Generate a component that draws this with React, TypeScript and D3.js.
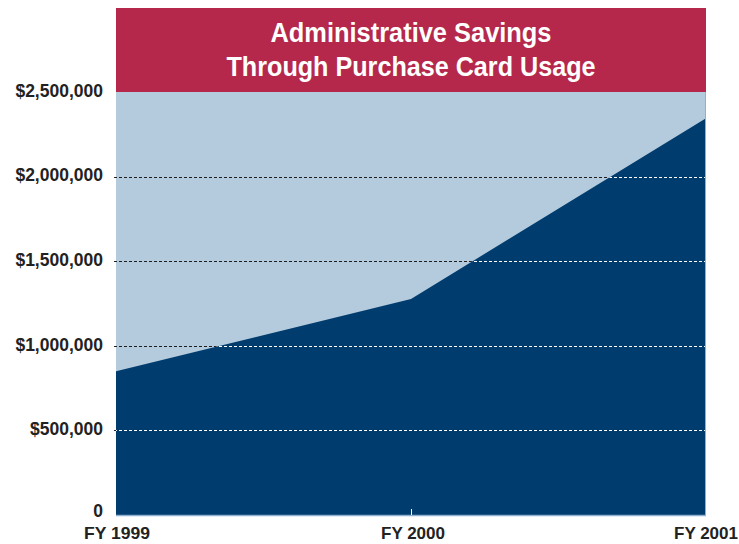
import React from "react";
import * as d3 from "d3";

const categories = ["FY 1999", "FY 2000", "FY 2001"];
const savings = [850000, 1277000, 2345000];
const yTicks = [0, 500000, 1000000, 1500000, 2000000, 2500000];
const yTickLabels = ["0", "$500,000", "$1,000,000", "$1,500,000", "$2,000,000", "$2,500,000"];
const gridValues = [500000, 1000000, 1500000, 2000000];
const titleLines = ["Administrative Savings", "Through Purchase Card Usage"];

const W = 739;
const H = 544;
const left = 116;
const right = 706;
const top = 92;
const bottom = 515;

export default function App() {
  const x = d3.scalePoint<string>().domain(categories).range([left, right]);
  const y = d3.scaleLinear().domain([0, 2500000]).range([bottom, top]);
  const data = categories.map((c, i) => ({ c, v: savings[i] }));
  const area = d3
    .area<{ c: string; v: number }>()
    .x((d) => x(d.c) as number)
    .y0(y(0))
    .y1((d) => y(d.v));
  const areaPath = area(data) as string;
  const xLabelWidths = [66, 64, 64];

  return (
    <svg
      width={W}
      height={H}
      style={{ position: "absolute", left: 0, top: 0, display: "block" }}
    >
      <defs>
        <clipPath id="areaClip">
          <path d={areaPath} />
        </clipPath>
      </defs>
      <rect x={0} y={0} width={W} height={H} fill="#ffffff" />
      {/* title band */}
      <rect x={left} y={8} width={right - left} height={top - 8} fill="#B5284B" />
      {titleLines.map((t, i) => (
        <text
          key={t}
          x={(left + right) / 2}
          y={42 + i * 34}
          textAnchor="middle"
          fill="#ffffff"
          fontFamily="'Liberation Sans', Arial, sans-serif"
          fontWeight={700}
          fontSize={28}
          textLength={i === 0 ? 281 : 369}
          lengthAdjust="spacingAndGlyphs"
        >
          {t}
        </text>
      ))}
      {/* plot background */}
      <rect x={left} y={top} width={right - left} height={bottom - top} fill="#B4CADD" />
      {/* area */}
      <path d={areaPath} fill="#003D6E" />
      {/* gridlines dark */}
      {gridValues.map((v) => (
        <line
          key={"g" + v}
          x1={left - 2}
          x2={right}
          y1={Math.round(y(v)) + 0.5}
          y2={Math.round(y(v)) + 0.5}
          stroke="#1e1e1e"
          strokeWidth={1}
          strokeDasharray="3,2"
        />
      ))}
      {/* gridlines white over area */}
      <g clipPath="url(#areaClip)">
        {gridValues.map((v) => (
          <line
            key={"w" + v}
            x1={left - 2}
            x2={right}
            y1={Math.round(y(v)) + 0.5}
            y2={Math.round(y(v)) + 0.5}
            stroke="#ffffff"
            strokeWidth={1}
            strokeDasharray="3,2"
          />
        ))}
      </g>
      {/* baseline */}
      <line x1={left} x2={right} y1={bottom + 0.5} y2={bottom + 0.5} stroke="#8FB0D0" strokeWidth={1.5} />
      <line x1={right - 0.5} x2={right - 0.5} y1={top} y2={bottom} stroke="#8FB0D0" strokeWidth={1} />
      <line
        x1={(x(categories[1]) as number) + 0.5}
        x2={(x(categories[1]) as number) + 0.5}
        y1={bottom - 6}
        y2={bottom}
        stroke="#ffffff"
        strokeWidth={1}
      />
      {/* y labels */}
      {yTicks.map((v, i) => (
        <text
          key={"y" + v}
          x={103}
          y={y(v) - (v === 0 ? 4.5 : 1.5)}
          dy="0.36em"
          textAnchor="end"
          fill="#222222"
          fontFamily="'Liberation Sans', Arial, sans-serif"
          fontWeight={700}
          fontSize={17.5}
        >
          {yTickLabels[i]}
        </text>
      ))}
      {/* x labels */}
      {categories.map((c, i) => (
        <text
          key={c}
          x={(x(c) as number) + (i === 0 ? 1 : i === 1 ? 2 : 0)}
          y={539}
          textAnchor="middle"
          fill="#222222"
          fontFamily="'Liberation Sans', Arial, sans-serif"
          fontWeight={700}
          fontSize={16.5}
          textLength={xLabelWidths[i]}
          lengthAdjust="spacingAndGlyphs"
        >
          {c}
        </text>
      ))}
    </svg>
  );
}
